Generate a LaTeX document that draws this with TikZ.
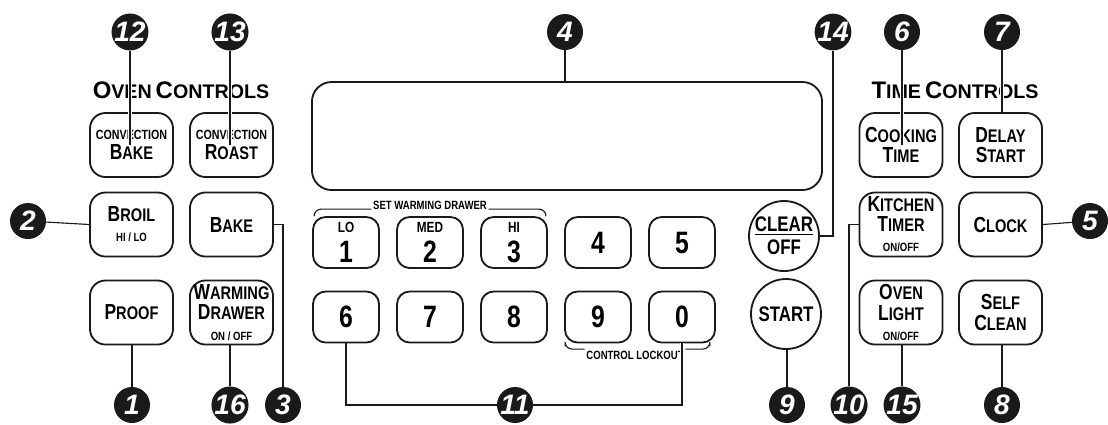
\documentclass[tikz,border=0pt]{standalone}
\usepackage{fontspec}
\setmainfont{Liberation Sans}
\newfontfamily\condfont[FakeStretch=0.8]{Liberation Sans}
\usetikzlibrary{calc}
\definecolor{inkc}{HTML}{1A1A1A}
\newcommand{\capfirst}[2]{{\fontsize{15.5}{15.5}\selectfont #1}{\fontsize{13}{13}\selectfont #2}}
\newcommand{\headcap}[2]{{\fontsize{17}{17}\selectfont #1}{\fontsize{14}{14}\selectfont #2}}
\newcommand{\minitext}[1]{{\fontsize{8.5}{8.5}\selectfont #1}}
\newcommand{\convtext}{{\fontsize{9.5}{9.5}\selectfont CONVECTION}}

\begin{document}
\begin{tikzpicture}[x=0.025cm,y=-0.025cm,
      btn/.style={draw=inkc,line width=1.3pt,rounded corners=11pt,minimum width=2.075cm,minimum height=1.6cm,align=center,inner sep=0pt,font=\condfont\bfseries\fontsize{13}{14.3}\selectfont},
      key/.style={btn,rounded corners=9pt,minimum width=1.65cm,minimum height=1.275cm,font=\condfont\bfseries\fontsize{22}{21}\selectfont},
      roundbtn/.style={circle,draw=inkc,line width=1.3pt,minimum size=1.75cm,inner sep=0pt,align=center,font=\condfont\bfseries\fontsize{15}{16.5}\selectfont},
      callout/.style={circle,fill=inkc,text=white,minimum size=0.9cm,inner sep=0pt,font=\bfseries\itshape\fontsize{20}{20}\selectfont},
      head/.style={font=\bfseries,inner sep=1pt},
      note/.style={font=\condfont\bfseries\fontsize{8.5}{9}\selectfont,inner sep=1pt},
      lead/.style={draw=inkc,line width=0.8pt},
      halo/.style={lead,preaction={draw=white,line width=3pt}},
    ]
    \useasboundingbox (0,0) rectangle (1108,424);
    % headings
    \node[head] (ovenhd) at (181,90) {\headcap{O}{VEN} \headcap{C}{ONTROLS}};
    \node[head] (timehd) at (955,90) {\headcap{T}{IME} \headcap{C}{ONTROLS}};
    % oven controls
    \node[btn] (cbake) at (131.5,145) {\convtext\\\capfirst{B}{AKE}};
    \node[btn] (croast) at (231.5,145) {\convtext\\\capfirst{R}{OAST}};
    \node[btn] (broil) at (131.5,224.5) {\capfirst{B}{ROIL}\\\minitext{HI / LO}};
    \node[btn] (bake) at (231.5,224.5) {\capfirst{B}{AKE}};
    \node[btn] (proof) at (131.5,312.5) {\capfirst{P}{ROOF}};
    \node[btn] (warm) at (231.5,312.5) {\capfirst{W}{ARMING}\\\capfirst{D}{RAWER}\\\minitext{ON / OFF}};
    % display
    \node[draw=inkc,line width=1.3pt,rounded corners=14pt,minimum width=12.75cm,minimum height=2.7cm] (disp) at (567,136) {};
    % keypad
    \foreach \d/\lab in {1/LO,2/MED,3/HI} {
      \node[key] (k\d) at ({346+84*(\d-1)},242.5) {{\fontsize{10.5}{10}\selectfont \lab}\\\d};
    }
    \foreach \d in {4,5} {
      \node[key] (k\d) at ({346+84*(\d-1)},242.5) {\d};
    }
    \foreach \d [count=\i] in {6,7,8,9,0} {
      \node[key] (k\d) at ({346+84*(\i-1)},317) {\d};
    }
    \node[note] (swd) at (430,205) {SET WARMING DRAWER};
    \draw[lead,rounded corners=5pt] (swd.base west) -| ($(k1.north west)+(2,-1)$);
    \draw[lead,rounded corners=5pt] (swd.base east) -| ($(k3.north east)+(-2,-1)$);
    \node[note] (clo) at (635,355) {CONTROL LOCKOUT};
    \draw[lead,rounded corners=5pt] (clo.north west) -| ($(k9.south west)+(1,3)$);
    \draw[lead,rounded corners=5pt] (clo.north east) -| ($(k0.south east)+(-6,3)$);
    % clear / start
    \node[roundbtn] (clr) at (784,236) {\underline{CLEAR}\\OFF};
    \node[roundbtn] (start) at (786,314) {START};
    % time controls
    \node[btn] (ctime) at (901,145) {\capfirst{C}{OOKING}\\\capfirst{T}{IME}};
    \node[btn] (delay) at (1000.5,145) {\capfirst{D}{ELAY}\\\capfirst{S}{TART}};
    \node[btn] (ktimer) at (901,224.5) {\capfirst{K}{ITCHEN}\\\capfirst{T}{IMER}\\\minitext{ON/OFF}};
    \node[btn] (clock) at (1000.5,224.5) {\capfirst{C}{LOCK}};
    \node[btn] (olight) at (901,312.5) {\capfirst{O}{VEN}\\\capfirst{L}{IGHT}\\\minitext{ON/OFF}};
    \node[btn] (sclean) at (1000.5,312.5) {\capfirst{S}{ELF}\\\capfirst{C}{LEAN}};
    % callouts
    \foreach \n/\x/\y in {12/130/32,13/230/32,4/565/32,14/833/32,6/902/32,7/1002/32,
                          2/28/221,5/1090/221,
                          1/132/405,16/230/405,3/283/405,11/515/405,9/787/405,10/849/405,15/902/405,8/1002/405} {
      \node[callout] (c\n) at (\x,\y) {\n};
    }
    \draw[halo] (c12) -- (c12 |- cbake.center);
    \draw[halo] (c13) -- (c13 |- croast.center);
    \draw[lead] (c4) -- (c4 |- disp.north);
    \draw[lead] (clr.east) -| (c14);
    \draw[halo] (c6) -- (c6 |- ctime.center);
    \draw[halo] (c7) -- (c7 |- delay.north);
    \draw[lead] (c2) -- (broil.west);
    \draw[lead] (clock.east) -- (c5);
    \draw[lead] (bake.east) -| (c3);
    \draw[lead] (c1 |- proof.south) -- (c1);
    \draw[lead] (c16 |- warm.south) -- (c16);
    \draw[lead] (k6.south) |- (c11);
    \draw[halo] (c11) -| (k0.south);
    \draw[lead] (c9 |- start.south) -- (c9);
    \draw[lead] (ktimer.west) -| (c10);
    \draw[lead] (c15 |- olight.south) -- (c15);
    \draw[lead] (c8 |- sclean.south) -- (c8);
  \end{tikzpicture}
\end{document}
